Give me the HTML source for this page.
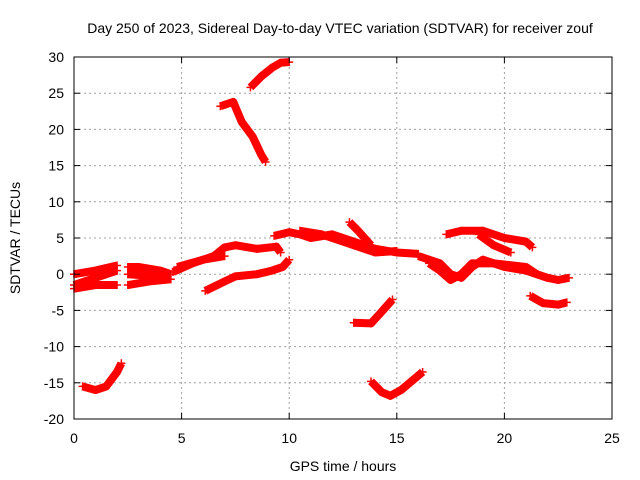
<!DOCTYPE html>
<html><head><meta charset="utf-8"><style>
body{margin:0;background:#fff;}
svg{display:block;font-family:"Liberation Sans",sans-serif;}
</style></head><body>
<svg id="chart" width="640" height="480">
<rect width="640" height="480" fill="#fff"/>
<g id="grid"></g>
<g id="series"></g>
<g id="axes"></g>
<text x="340" y="33" font-size="14" text-anchor="middle">Day 250 of 2023, Sidereal Day-to-day VTEC variation (SDTVAR) for receiver zouf</text>
<text x="343" y="471" font-size="14" text-anchor="middle">GPS time / hours</text>
<text transform="translate(20,238) rotate(-90)" font-size="14" text-anchor="middle">SDTVAR / TECUs</text>
</svg>
<script>
const xTicks=[0,5,10,15,20,25];
const yTicks=[-20,-15,-10,-5,0,5,10,15,20,25,30];
const track1=[[0,-1.5],[0.5,-1],[1,-0.5],[1.5,0],[2,0.5]];
const track2=[[0,-2],[1,-1.5],[2,-1.5]];
const track3=[[0,0],[1,0.5],[2,1.2]];
const track4=[[0.4,-15.5],[1,-16],[1.5,-15.5],[2,-13.5],[2.2,-12.3]];
const track5=[[2.5,1],[3,1],[4,0.5],[4.5,0]];
const track6=[[2.5,-1.5],[3.5,-1],[4.5,-0.7]];
const track7=[[2.5,0],[4,-0.3],[4.4,0]];
const track8=[[4.6,0.3],[5.5,1.5],[6.5,2.5],[7,3.7],[7.5,4],[8.5,3.5],[9.4,3.8],[9.6,3]];
const track9=[[4.8,1],[6,2],[7,2.5]];
const track10=[[6.1,-2.3],[7,-1],[7.5,-0.3],[8.5,0],[9.2,0.5],[9.7,1],[10,2]];
const track11=[[6.8,23.2],[7.4,23.8],[7.8,21],[8.3,19],[8.7,16.5],[8.9,15.5]];
const track12=[[8.2,25.8],[8.7,27.3],[9.2,28.5],[9.6,29.2],[10,29.3]];
const track13=[[9.3,5.3],[10,5.8],[10.5,5.5],[11,5],[12,5.5],[12.5,5],[13,4.5],[14,3.5],[15,3],[16,2.8]];
const track14=[[10.5,6],[11.5,5.5],[12,5],[13,4],[14,3],[15,3.2]];
const track15=[[12.8,7.2],[13.2,6],[13.8,4]];
const track16=[[13,-6.7],[13.8,-6.8],[14.2,-5.5],[14.8,-3.5]];
const track17=[[13.8,-14.8],[14.3,-16.3],[14.7,-16.8],[15.2,-16],[15.8,-14.5],[16.2,-13.5]];
const track18=[[16,2.5],[17,1.5],[17.5,0],[18,-0.5],[18.5,1],[19,2],[20,1],[21,0.5],[22,-0.5],[22.5,-0.8],[23,-0.5]];
const track19=[[17.3,5.5],[18,6],[19,6],[20,5],[21,4.5],[21.3,3.7]];
const track20=[[18.8,5.5],[19.5,4],[20.3,3]];
const track21=[[16.5,1.5],[17,0.5],[17.5,-0.8],[18,0],[18.5,1.5],[19.5,1.5],[21,1],[21.5,0]];
const track22=[[21.2,-3],[21.8,-4],[22.5,-4.2],[22.9,-3.9]];
const tracks=[track1,track2,track3,track4,track5,track6,track7,track8,track9,track10,track11,track12,track13,track14,track15,track16,track17,track18,track19,track20,track21,track22];

const X0=74,X1=612,Y0=419,Y1=57;
const xs=v=>X0+(v-0)/25*(X1-X0);
const ys=v=>Y0-(v+20)/50*(Y0-Y1);
const NS='http://www.w3.org/2000/svg';
function mk(t,a,p){const e=document.createElementNS(NS,t);for(const k in a)e.setAttribute(k,a[k]);p.appendChild(e);return e;}
const grid=document.getElementById('grid'),axes=document.getElementById('axes'),ser=document.getElementById('series');
xTicks.forEach(t=>{
  const x=xs(t);
  if(t>0&&t<25){const l=mk('line',{x1:x,x2:x,y1:Y1,y2:Y0,stroke:'#a0a0a0','stroke-dasharray':'2,3'},grid);
  
  }
  mk('line',{x1:x,x2:x,y1:Y0,y2:Y0-6,stroke:'#000'},axes);
  mk('line',{x1:x,x2:x,y1:Y1,y2:Y1+6,stroke:'#000'},axes);
  const tx=mk('text',{x:x,y:Y0+24,'font-size':14,'text-anchor':'middle'},axes);tx.textContent=t;
  
  
});
yTicks.forEach(t=>{
  const y=ys(t);
  if(t>-20&&t<30){const l=mk('line',{x1:X0,x2:X1,y1:y,y2:y,stroke:'#a0a0a0','stroke-dasharray':'2,3'},grid);
  
  }
  mk('line',{x1:X0,x2:X0+6,y1:y,y2:y,stroke:'#000'},axes);
  mk('line',{x1:X1,x2:X1-6,y1:y,y2:y,stroke:'#000'},axes);
  const tx=mk('text',{x:X0-10,y:y+5,'font-size':14,'text-anchor':'end'},axes);tx.textContent=t;
  
  
});
const fr=mk('rect',{x:X0,y:Y1,width:X1-X0,height:Y0-Y1,fill:'none',stroke:'#000'},axes);


tracks.forEach(tr=>{
  const pl=mk('polyline',{points:tr.map(p=>xs(p[0])+','+ys(p[1])).join(' '),fill:'none',stroke:'#f00','stroke-width':8,'stroke-linejoin':'round'},ser);
  
  
  tr.forEach(p=>{
    const x=xs(p[0]),y=ys(p[1]);
    const m=mk('path',{d:`M${x-4},${y}H${x+4}M${x},${y-4}V${y+4}`,stroke:'#f00','stroke-width':1.5},ser);
    
    
  });
});
</script>
</body></html>
